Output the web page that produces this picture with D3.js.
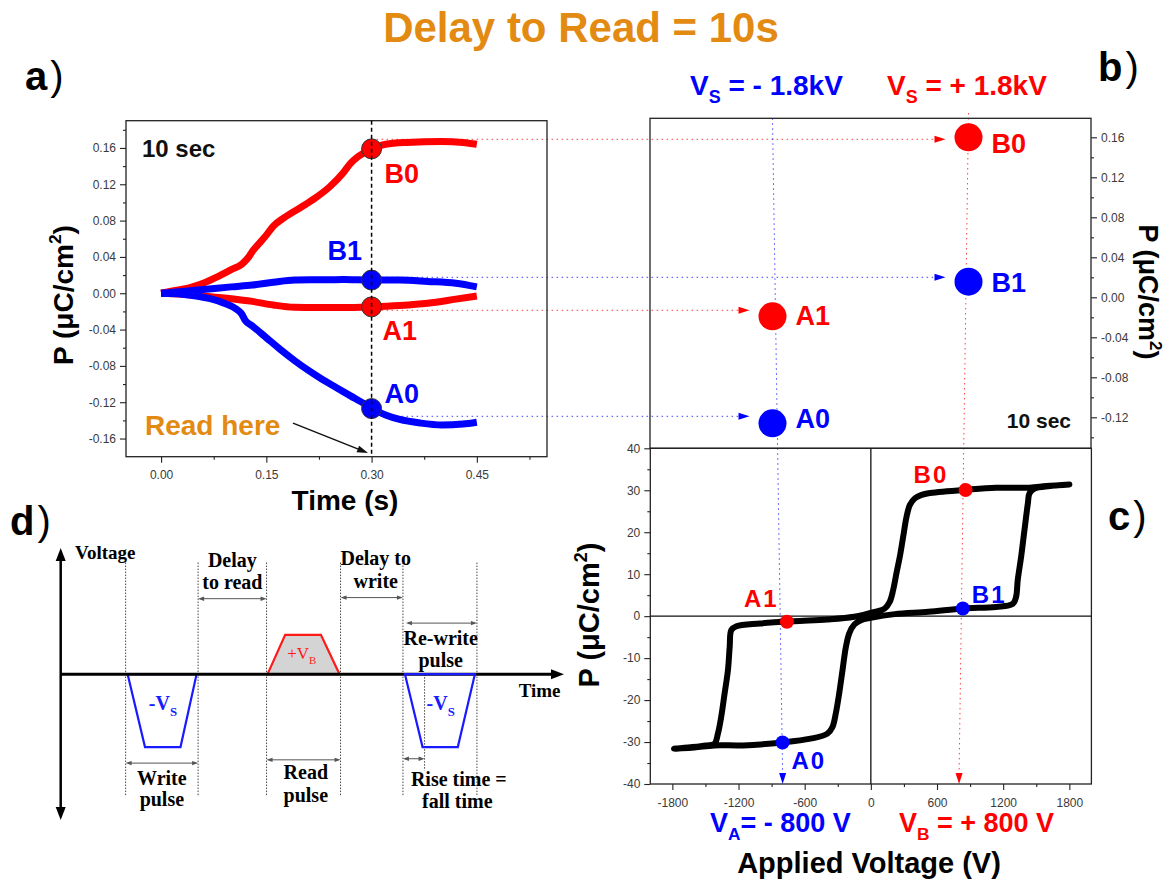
<!DOCTYPE html>
<html>
<head>
<meta charset="utf-8">
<script src="https://cdn.jsdelivr.net/npm/d3@7"></script>
<style>
  body { margin: 0; background: #fff; }
  svg { display: block; font-family: Arial, "Liberation Sans", sans-serif; }
</style>
</head>
<body>
<svg id="fig" width="1175" height="881"></svg>
<script>
// ---------------- data ----------------
// (a) polarisation transients during the read pulse, P in uC/cm^2 vs time in s
const tB0 = [0, 0.02, 0.04, 0.06, 0.08, 0.10, 0.115, 0.125, 0.13, 0.14, 0.15, 0.16, 0.175, 0.20, 0.22, 0.24, 0.26, 0.27, 0.28, 0.29, 0.30, 0.32, 0.35, 0.40, 0.43, 0.45];
const pB0 = [0, 0.003, 0.006, 0.011, 0.018, 0.026, 0.032, 0.040, 0.046, 0.055, 0.064, 0.074, 0.083, 0.095, 0.105, 0.117, 0.133, 0.143, 0.150, 0.155, 0.159, 0.164, 0.166, 0.167, 0.166, 0.164];
const tB1 = [0, 0.03, 0.06, 0.10, 0.13, 0.16, 0.19, 0.22, 0.26, 0.30, 0.34, 0.38, 0.42, 0.45];
const pB1 = [0, 0.002, 0.004, 0.007, 0.009, 0.012, 0.0145, 0.0148, 0.015, 0.0145, 0.0145, 0.013, 0.011, 0.007];
const tA1 = [0, 0.03, 0.06, 0.10, 0.13, 0.16, 0.19, 0.22, 0.26, 0.30, 0.34, 0.38, 0.42, 0.45];
const pA1 = [0, -0.001, -0.003, -0.006, -0.009, -0.013, -0.0155, -0.0158, -0.0158, -0.015, -0.0135, -0.011, -0.0065, -0.003];
const tA0 = [0, 0.03, 0.05, 0.07, 0.09, 0.11, 0.115, 0.12, 0.13, 0.15, 0.17, 0.19, 0.21, 0.23, 0.25, 0.27, 0.29, 0.30, 0.32, 0.34, 0.37, 0.40, 0.43, 0.45];
const pA0 = [0, -0.001, -0.003, -0.006, -0.011, -0.019, -0.023, -0.030, -0.036, -0.049, -0.062, -0.074, -0.085, -0.095, -0.104, -0.113, -0.122, -0.127, -0.134, -0.139, -0.143, -0.145, -0.144, -0.142];

const readTime = 0.30;
const stateNames = ["B0", "B1", "A1", "A0"];
const readValues = [0.159, 0.0145, -0.015, -0.127];

// (b) read-out values per state, grouped by the write voltage
const writeVoltages = ["-1.8 kV", "+1.8 kV"];
const stateWrite = ["+1.8 kV", "+1.8 kV", "-1.8 kV", "-1.8 kV"];
const stateP = [0.160, 0.0156, -0.019, -0.126];
const guideP = [0.158, 0.020, -0.013, -0.119];

// (c) P-V hysteresis loop (V in volts, P in uC/cm^2)
const loopV = [1800, 1592, 1439, 1134, 859, 523, 461, 400, 354, 324, 293, 263, 232, 202, 171, 125, 34, -150, -394, -700,
  -1005, -1219, -1265, -1280, -1296, -1326, -1357, -1387, -1418, -1494, -1617, -1785,
  -1600, -1418, -1158, -801, -547, -394, -348, -318, -287, -257, -226, -196, -150, -89, 0, 217, 523, 834,
  1134, 1287, 1317, 1332, 1363, 1393, 1424, 1439, 1485, 1623, 1800];
const loopP = [31.4, 31.0, 30.6, 30.6, 30.1, 29.3, 28.9, 28.1, 26.5, 23.7, 18.9, 14.2, 10.2, 6.2, 3.4, 1.8, 1.0, -0.16, -0.8, -1.2,
  -1.75, -2.4, -3.3, -7.3, -12.9, -18.4, -24.0, -28.0, -30.4, -30.8, -31.2, -31.6,
  -31.3, -30.8, -30.8, -30.1, -29.2, -28.0, -26.4, -23.2, -18.4, -12.9, -7.3, -4.1, -2.0, -0.95, -0.4, 0.48, 1.03, 1.83,
  2.2, 2.9, 4.6, 8.6, 14.2, 20.5, 26.9, 29.3, 30.4, 31.0, 31.4];
const loopPointV = [859, 834, -761, -801];
const loopPointP = [30.05, 1.83, -1.35, -30.1];
const biasVA = -800;
const biasVB = 800;

// (d) pulse train: corner times (arb. units) and levels (units of V_S)
const writeT = [1.33, 1.675, 2.38, 2.70];
const readT = [4.11, 4.46, 5.17, 5.54];
const rewriteT = [6.84, 7.19, 7.89, 8.23];
const pulseLevels = [-1, 0.54, -1];
const phaseEdges = [1.29, 2.73, 4.09, 5.56, 6.80, 8.27];
const riseEdge = 7.23;

// tick values
const aTicksX = [0, 0.15, 0.30, 0.45];
const aMinorX = [0.075, 0.225, 0.375, 0.525];
const aTicksY = [-0.16, -0.12, -0.08, -0.04, 0, 0.04, 0.08, 0.12, 0.16];
const aMinorY = [-0.14, -0.10, -0.06, -0.02, 0.02, 0.06, 0.10, 0.14, 0.18];
const bTicksY = [-0.12, -0.08, -0.04, 0, 0.04, 0.08, 0.12, 0.16];
const bMinorY = [-0.14, -0.10, -0.06, -0.02, 0.02, 0.06, 0.10, 0.14];
const cTicksX = [-1800, -1200, -600, 0, 600, 1200, 1800];
const cMinorX = [-1500, -900, -300, 300, 900, 1500];
const cTicksY = [-40, -30, -20, -10, 0, 10, 20, 30, 40];
const cMinorY = [-35, -25, -15, -5, 5, 15, 25, 35];

// ---------------- drawing ----------------
const RED = "#ff0000", BLUE = "#0000ff", ORANGE = "#e38a12", INK = "#000";
const SANS = "Arial, 'Liberation Sans', sans-serif";
const SERIF = "'Liberation Serif', 'Times New Roman', serif";
const svg = d3.select("#fig");

function styleAxis(g) {
  g.attr("font-family", SANS).attr("font-size", 12);
  g.select(".domain").remove();
  g.selectAll(".tick line").attr("stroke", "#222").attr("stroke-width", 1.1);
  g.selectAll(".tick text").attr("fill", "#3a3a3a");
  return g;
}
function head(g, x1, y1, x2, y2, len, half, color) {
  const a = Math.atan2(y2 - y1, x2 - x1), c = Math.cos(a), s = Math.sin(a);
  const bx = x2 - len * c, by = y2 - len * s;
  g.append("polygon")
    .attr("points", [[x2, y2], [bx - half * s, by + half * c], [bx + half * s, by - half * c]].map(p => p.join(",")).join(" "))
    .attr("fill", color);
}
function panelTag(x, y, letter) {
  const t = svg.append("text").attr("x", x).attr("y", y).attr("font-size", 40).attr("fill", INK);
  t.append("tspan").attr("font-weight", "bold").text(letter);
  t.append("tspan").attr("dx", 3).attr("font-weight", "normal").text(")");
}
function pLabel(tx, ty, rot, size) {
  const t = svg.append("text").attr("transform", `translate(${tx},${ty}) rotate(${rot})`)
    .attr("text-anchor", "middle").attr("font-size", size).attr("font-weight", "bold").attr("fill", INK);
  t.append("tspan").text("P (\u03bcC/cm");
  t.append("tspan").attr("font-size", size * 0.62).attr("dy", -size * 0.42).text("2");
  t.append("tspan").attr("dy", size * 0.42).text(")");
}
function subText(g, x, y, color, size, main, sub, rest, weight, family) {
  const t = g.append("text").attr("x", x).attr("y", y).attr("fill", color).attr("font-size", size)
    .attr("font-weight", weight || "bold").attr("font-family", family || SANS);
  t.append("tspan").text(main);
  t.append("tspan").attr("font-size", size * 0.64).attr("dy", size * 0.3).text(sub);
  if (rest) t.append("tspan").attr("dy", -size * 0.3).text(rest);
}

// scales
const ax = d3.scaleLinear().domain([-0.05, 0.55]).range([126, 547]);
const ay = d3.scaleLinear().domain([-0.18, 0.19]).range([456.7, 120.7]);
const bx = d3.scalePoint().domain(writeVoltages).range([650, 1091]).padding(0.625);
const by = d3.scaleLinear().domain([-0.151, 0.179]).range([448.3, 118.3]);
const cx = d3.scaleLinear().domain([-2000, 2000]).range([650.3, 1091.4]);
const cy = d3.scaleLinear().domain([-40, 40]).range([784, 448.3]);
const stateColor = n => (n === "B0" || n === "A1") ? RED : BLUE;

// title
svg.append("text").attr("x", 581).attr("y", 41.7).attr("text-anchor", "middle")
  .attr("font-size", 42).attr("font-weight", "bold").attr("fill", ORANGE).text("Delay to Read = 10s");

// ---- connecting guides (beneath everything) ----
const guides = svg.append("g");
stateNames.forEach((n, i) => {
  const col = stateColor(n);
  const y = by(guideP[i]);
  const tipX = bx(stateWrite[i]) - 23;
  guides.append("line").attr("x1", ax(readTime)).attr("x2", tipX - 8).attr("y1", y).attr("y2", y)
    .attr("stroke", col).attr("stroke-opacity", 0.75).attr("stroke-width", 1).attr("stroke-dasharray", "1.5,3.5");
  head(guides, tipX - 11, y, tipX, y, 11, 3.5, col);
});
[[writeVoltages[0], biasVA, BLUE, 118.3], [writeVoltages[1], biasVB, RED, 113]].forEach(([cat, v, col, top]) => {
  const x0 = bx(cat), x1 = cx(v), yEnd = cy(-40);
  guides.append("line").attr("x1", x0).attr("y1", top).attr("x2", x1).attr("y2", yEnd - 9)
    .attr("stroke", col).attr("stroke-opacity", 0.75).attr("stroke-width", 1).attr("stroke-dasharray", "1.5,3.5");
  head(guides, x1, yEnd - 12, x1, yEnd, 11, 3.5, col);
});

// ================= panel a =================
const gA = svg.append("g");
styleAxis(gA.append("g").attr("transform", `translate(0,${ay.range()[0]})`)
  .call(d3.axisBottom(ax).tickValues(aTicksX).tickSize(6).tickPadding(8).tickFormat(d => d.toFixed(2))));
styleAxis(gA.append("g").attr("transform", `translate(0,${ay.range()[0]})`)
  .call(d3.axisBottom(ax).tickValues(aMinorX).tickSize(3).tickFormat("")));
styleAxis(gA.append("g").attr("transform", `translate(${ax.range()[0]},0)`)
  .call(d3.axisLeft(ay).tickValues(aTicksY).tickSize(6).tickPadding(4).tickFormat(d => d.toFixed(2))));
styleAxis(gA.append("g").attr("transform", `translate(${ax.range()[0]},0)`)
  .call(d3.axisLeft(ay).tickValues(aMinorY).tickSize(3).tickFormat("")));
gA.append("rect").attr("x", ax.range()[0]).attr("y", ay.range()[1])
  .attr("width", ax.range()[1] - ax.range()[0]).attr("height", ay.range()[0] - ay.range()[1])
  .attr("fill", "none").attr("stroke", "#222").attr("stroke-width", 1.3);

const lineA = d3.line().x(d => ax(d[0])).y(d => ay(d[1])).curve(d3.curveMonotoneX);
const seriesA = [[tB0, pB0, RED], [tA1, pA1, RED], [tB1, pB1, BLUE], [tA0, pA0, BLUE]];
seriesA.forEach(([t, p, col]) => {
  gA.append("path").datum(t.map((v, i) => [v, p[i]])).attr("d", lineA)
    .attr("fill", "none").attr("stroke", col).attr("stroke-width", 7).attr("stroke-linejoin", "round");
});
stateNames.forEach((n, i) => {
  gA.append("circle").attr("cx", ax(readTime)).attr("cy", ay(readValues[i])).attr("r", 10)
    .attr("fill", stateColor(n)).attr("stroke", "#333").attr("stroke-width", 1);
});
gA.append("line").attr("x1", ax(readTime)).attr("x2", ax(readTime))
  .attr("y1", ay.range()[1]).attr("y2", ay.range()[0])
  .attr("stroke", "#000").attr("stroke-width", 1.5).attr("stroke-dasharray", "4,3");

const aLabelOff = { B0: [13, 34], B1: [-44, -20], A1: [11, 33], A0: [13, -6] };
stateNames.forEach((n, i) => {
  gA.append("text").attr("x", ax(readTime) + aLabelOff[n][0]).attr("y", ay(readValues[i]) + aLabelOff[n][1])
    .attr("font-size", 27).attr("font-weight", "bold").attr("fill", stateColor(n)).text(n);
});
gA.append("text").attr("x", 142).attr("y", 157).attr("font-size", 24).attr("font-weight", "bold").attr("fill", "#111").text("10 sec");
gA.append("text").attr("x", 145).attr("y", 435).attr("font-size", 28).attr("font-weight", "bold").attr("fill", ORANGE).text("Read here");
{
  const x1 = ax(0.188), y1 = ay(-0.143), x2 = ax(0.295), y2 = ay(-0.176);
  gA.append("line").attr("x1", x1).attr("y1", y1).attr("x2", x2 - 6).attr("y2", y2 - 2.4)
    .attr("stroke", "#111").attr("stroke-width", 1.5);
  head(gA, x1, y1, x2, y2, 11, 3.5, "#111");
}
svg.append("text").attr("x", 345).attr("y", 510).attr("text-anchor", "middle")
  .attr("font-size", 28).attr("font-weight", "bold").attr("fill", INK).text("Time (s)");
pLabel(73, 295, -90, 28);
panelTag(25, 90, "a");

// ================= panel b =================
const gB = svg.append("g");
gB.append("rect").attr("x", 650).attr("y", by.range()[1]).attr("width", 441)
  .attr("height", by.range()[0] - by.range()[1]).attr("fill", "none").attr("stroke", "#222").attr("stroke-width", 1.3);
styleAxis(gB.append("g").attr("transform", "translate(1091,0)")
  .call(d3.axisRight(by).tickValues(bTicksY).tickSize(6).tickPadding(4).tickFormat(d => d.toFixed(2))));
styleAxis(gB.append("g").attr("transform", "translate(1091,0)")
  .call(d3.axisRight(by).tickValues(bMinorY).tickSize(3).tickFormat("")));
const bLabelOff = { B0: 16, B1: 10, A1: 9, A0: 5 };
stateNames.forEach((n, i) => {
  const x = bx(stateWrite[i]), y = by(stateP[i]);
  gB.append("circle").attr("cx", x).attr("cy", y).attr("r", 14).attr("fill", stateColor(n));
  gB.append("text").attr("x", x + 23).attr("y", y + bLabelOff[n]).attr("font-size", 27)
    .attr("font-weight", "bold").attr("fill", stateColor(n)).text(n);
});
gB.append("text").attr("x", 1071).attr("y", 428).attr("text-anchor", "end")
  .attr("font-size", 21).attr("font-weight", "bold").attr("fill", "#111").text("10 sec");
subText(svg, 690, 95, BLUE, 28, "V", "S", " = - 1.8kV");
subText(svg, 887, 95, RED, 28, "V", "S", " = + 1.8kV");
{
  const t = svg.append("text").attr("transform", "translate(1139,292) rotate(90)")
    .attr("text-anchor", "middle").attr("font-size", 27).attr("font-weight", "bold").attr("fill", INK);
  t.append("tspan").text("P (\u03bcC/cm");
  t.append("tspan").attr("font-size", 17).attr("dy", -11).text("2");
  t.append("tspan").attr("dy", 11).text(")");
}
panelTag(1098, 81, "b");

// ================= panel c =================
const gC = svg.append("g");
styleAxis(gC.append("g").attr("transform", `translate(0,${cy(-40)})`)
  .call(d3.axisBottom(cx).tickValues(cTicksX).tickSize(6).tickPadding(8).tickFormat(d => String(d))));
styleAxis(gC.append("g").attr("transform", `translate(0,${cy(-40)})`)
  .call(d3.axisBottom(cx).tickValues(cMinorX).tickSize(3).tickFormat("")));
styleAxis(gC.append("g").attr("transform", `translate(${cx(-2000)},0)`)
  .call(d3.axisLeft(cy).tickValues(cTicksY).tickSize(6).tickPadding(4).tickFormat(d => String(d))));
styleAxis(gC.append("g").attr("transform", `translate(${cx(-2000)},0)`)
  .call(d3.axisLeft(cy).tickValues(cMinorY).tickSize(3).tickFormat("")));
gC.append("rect").attr("x", cx(-2000)).attr("y", cy(40)).attr("width", cx(2000) - cx(-2000))
  .attr("height", cy(-40) - cy(40)).attr("fill", "none").attr("stroke", "#222").attr("stroke-width", 1.3);
gC.append("line").attr("x1", cx(-2000)).attr("x2", cx(2000)).attr("y1", cy(0)).attr("y2", cy(0))
  .attr("stroke", "#111").attr("stroke-width", 1.3);
gC.append("line").attr("x1", cx(0)).attr("x2", cx(0)).attr("y1", cy(40)).attr("y2", cy(-40))
  .attr("stroke", "#111").attr("stroke-width", 1.3);
const lineC = d3.line().x(d => cx(d[0])).y(d => cy(d[1])).curve(d3.curveCatmullRom.alpha(0.5));
gC.append("path").datum(loopV.map((v, i) => [v, loopP[i]])).attr("d", lineC)
  .attr("fill", "none").attr("stroke", "#000").attr("stroke-width", 6)
  .attr("stroke-linejoin", "round").attr("stroke-linecap", "round");
const cLabelOff = { B0: [-52, -7], B1: [9, -5], A1: [-43, -15], A0: [9, 27] };
stateNames.forEach((n, i) => {
  const x = cx(loopPointV[i]), y = cy(loopPointP[i]);
  gC.append("circle").attr("cx", x).attr("cy", y).attr("r", 7).attr("fill", stateColor(n));
  gC.append("text").attr("x", x + cLabelOff[n][0]).attr("y", y + cLabelOff[n][1])
    .attr("font-size", 24).attr("font-weight", "bold").attr("letter-spacing", 2).attr("fill", stateColor(n)).text(n);
});
subText(svg, 710, 832, BLUE, 27, "V", "A", "= - 800 V");
subText(svg, 899, 832, RED, 27, "V", "B", " = + 800 V");
svg.append("text").attr("x", 869).attr("y", 873).attr("text-anchor", "middle")
  .attr("font-size", 29).attr("font-weight", "bold").attr("fill", INK).text("Applied Voltage (V)");
pLabel(599, 615, -90, 29);
panelTag(1108, 530, "c");

// ================= panel d =================
const dx = d3.scaleLinear().domain([0, 10]).range([60.7, 564]);
const dy = d3.scaleLinear().domain([-2, 1.73]).range([820, 548]);
const gD = svg.append("g").attr("font-family", SERIF);
phaseEdges.forEach(t => {
  gD.append("line").attr("x1", dx(t)).attr("x2", dx(t)).attr("y1", dy(1.53)).attr("y2", dy(-1.68))
    .attr("stroke", "#444").attr("stroke-width", 1).attr("stroke-dasharray", "1.5,1.5");
});
gD.append("line").attr("x1", dx(riseEdge)).attr("x2", dx(riseEdge)).attr("y1", dy(0)).attr("y2", dy(-1.32))
  .attr("stroke", "#444").attr("stroke-width", 1).attr("stroke-dasharray", "1.5,1.5");

function pulse(times, level, stroke, fill) {
  const pts = [[times[0], 0], [times[1], level], [times[2], level], [times[3], 0]];
  gD.append("polygon").attr("points", pts.map(p => [dx(p[0]), dy(p[1])].join(",")).join(" "))
    .attr("fill", fill).attr("stroke", stroke).attr("stroke-width", 2.2).attr("stroke-linejoin", "miter");
}
pulse(writeT, pulseLevels[0], "#1a1aff", "none");
pulse(readT, pulseLevels[1], "#ff1a1a", "#d4d4d4");
// axes of the schematic
gD.append("line").attr("x1", dx(0)).attr("x2", dx(9.85)).attr("y1", dy(0)).attr("y2", dy(0))
  .attr("stroke", "#000").attr("stroke-width", 3);
head(gD, dx(9.6), dy(0), dx(10), dy(0), 13, 5, "#000");
gD.append("line").attr("x1", dx(0)).attr("x2", dx(0)).attr("y1", dy(1.6)).attr("y2", dy(-1.87))
  .attr("stroke", "#000").attr("stroke-width", 2.5);
head(gD, dx(0), dy(1.4), dx(0), dy(1.73), 13, 5, "#000");
head(gD, dx(0), dy(-1.7), dx(0), dy(-2), 13, 5, "#000");
pulse(rewriteT, pulseLevels[2], "#1a1aff", "none");

// spans between phase edges
[[phaseEdges[1], phaseEdges[2], 1.035], [phaseEdges[3], phaseEdges[4], 1.05], [phaseEdges[4] + 0.06, phaseEdges[5], 0.70],
 [phaseEdges[0], phaseEdges[1], -1.22], [phaseEdges[2], phaseEdges[3], -1.175], [phaseEdges[4], riseEdge, -1.16]]
  .forEach(([a, b, lv]) => {
    const y = dy(lv);
    gD.append("line").attr("x1", dx(a) + 2).attr("x2", dx(b) - 2).attr("y1", y).attr("y2", y)
      .attr("stroke", "#555").attr("stroke-width", 1);
    head(gD, dx(a) + 6, y, dx(a), y, 6, 2.2, "#555");
    head(gD, dx(b) - 6, y, dx(b), y, 6, 2.2, "#555");
  });

const dText = [
  ["Delay", 3.41, 1.47], ["to read", 3.41, 1.17],
  ["Delay to", 6.26, 1.50], ["write", 6.26, 1.18],
  ["Re-write", 7.55, 0.40], ["pulse", 7.55, 0.10],
  ["Write", 2.01, -1.52], ["pulse", 2.01, -1.81],
  ["Read", 4.87, -1.44], ["pulse", 4.87, -1.76],
  ["Rise time =", 7.91, -1.54], ["fall time", 7.88, -1.84]
];
dText.forEach(([s, t, lv]) => {
  gD.append("text").attr("x", dx(t)).attr("y", dy(lv)).attr("text-anchor", "middle")
    .attr("font-family", SERIF).attr("font-size", 20).attr("font-weight", "bold").attr("fill", "#000").text(s);
});
gD.append("text").attr("x", dx(0.285)).attr("y", dy(1.58)).attr("font-family", SERIF)
  .attr("font-size", 19).attr("font-weight", "bold").text("Voltage");
gD.append("text").attr("x", dx(9.10)).attr("y", dy(-0.31)).attr("font-family", SERIF)
  .attr("font-size", 19).attr("font-weight", "bold").text("Time");
subText(gD, dx(1.75), dy(-0.49), "#1a1aff", 20, "-V", "S", null, "bold", SERIF);
subText(gD, dx(7.27), dy(-0.49), "#1a1aff", 20, "-V", "S", null, "bold", SERIF);
subText(gD, dx(4.50), dy(0.206), "#ff1a1a", 17, "+V", "B", null, "normal", SERIF);
panelTag(10, 535, "d");
</script>
</body>
</html>
